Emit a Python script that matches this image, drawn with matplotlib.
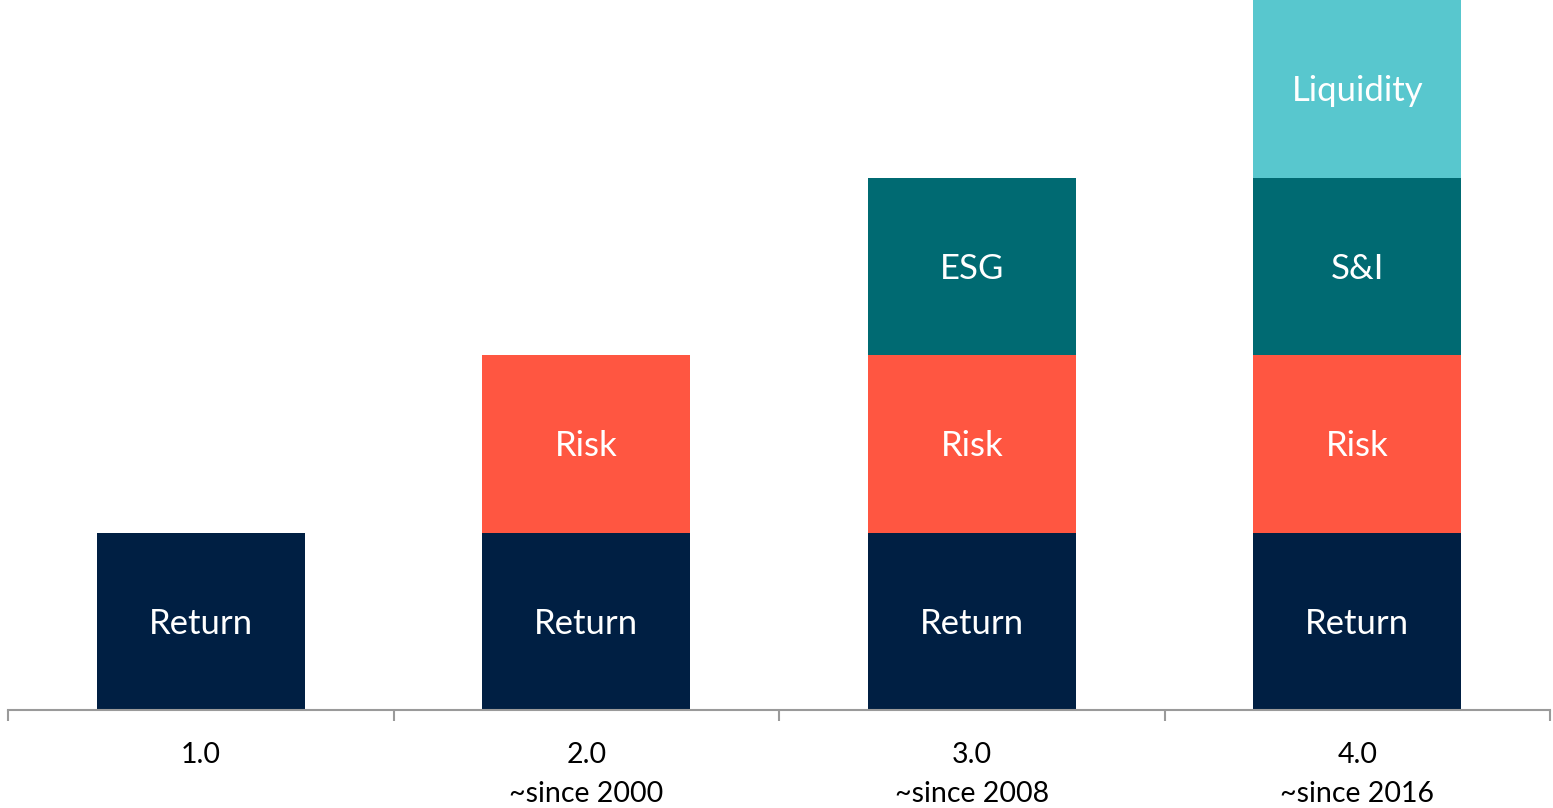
import matplotlib
matplotlib.use("Agg")
import matplotlib.pyplot as plt
import numpy as np

plt.rcParams['font.family'] = ['Lato', 'DejaVu Sans']

# Stage labels along the x-axis
categories = ["1.0", "2.0\n~since 2000", "3.0\n~since 2008", "4.0\n~since 2016"]

# Stacked dimensions per stage (1 = present, 0 = absent) with their segment labels
return_vals = [1, 1, 1, 1]
risk_vals = [0, 1, 1, 1]
third_vals = [0, 0, 1, 1]
third_labels = ["", "", "ESG", "S&I"]
liquidity_vals = [0, 0, 0, 1]

series = [
    (return_vals, ["Return"] * 4, "#001F43"),
    (risk_vals, ["Risk"] * 4, "#FF5641"),
    (third_vals, third_labels, "#006A72"),
    (liquidity_vals, ["Liquidity"] * 4, "#58C7CE"),
]

fig = plt.figure(figsize=(15.53, 8.08), dpi=100)
ax = fig.add_axes([8 / 1553, 98 / 808, 1542 / 1553, 710 / 808])

x = np.arange(len(categories))
bottom = np.zeros(len(categories))
for vals, labels, color in series:
    vals = np.array(vals, dtype=float)
    ax.bar(x, vals, width=0.54, bottom=bottom, color=color, edgecolor="none")
    for xi, v, b, lab in zip(x, vals, bottom, labels):
        if v > 0 and lab:
            ax.text(xi, b + v / 2 - 0.015, lab, ha="center", va="center",
                    color="white", fontsize=25)
    bottom += vals

ax.set_xlim(-0.5, len(categories) - 0.5)
ax.set_ylim(0, 4)

for side in ["top", "right", "left"]:
    ax.spines[side].set_visible(False)
ax.spines["bottom"].set_color("#9A9A9A")
ax.spines["bottom"].set_linewidth(1.5)

ax.set_yticks([])
ax.set_xticks(x)
ax.set_xticklabels(categories, fontsize=20.5, color="black", linespacing=1.6)
ax.tick_params(axis="x", which="major", length=0, pad=23)
ax.set_xticks(np.arange(-0.5, len(categories)), minor=True)
ax.tick_params(axis="x", which="minor", length=8, width=1.5, color="#9A9A9A")

fig.savefig("out.png", dpi=100)
